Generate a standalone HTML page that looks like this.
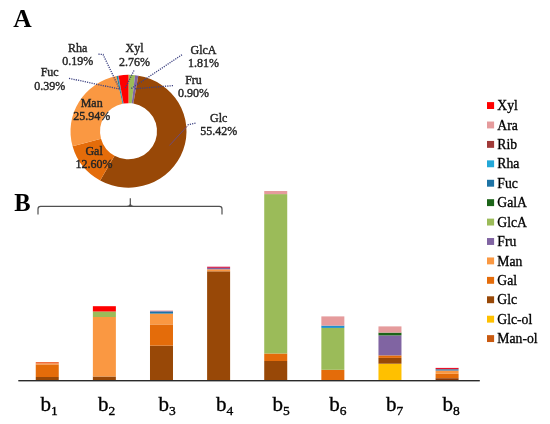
<!DOCTYPE html>
<html><head><meta charset="utf-8"><style>
html,body{margin:0;padding:0;background:#fff;}
body{width:550px;height:424px;position:relative;overflow:hidden;font-family:"Liberation Serif",serif;}
</style></head><body>
<svg width="550" height="424" viewBox="0 0 550 424" style="position:absolute;left:0;top:0;will-change:transform;filter:blur(0.4px)">
<path d="M128.50,74.85 A58.0,56.4 0 0 1 135.08,75.21 L131.73,103.33 A28.5,28.1 0 0 0 128.50,103.15 Z" fill="#9BBB59" />
<path d="M135.08,75.21 A58.0,56.4 0 0 1 138.33,75.67 L133.33,103.56 A28.5,28.1 0 0 0 131.73,103.33 Z" fill="#8064A2" />
<path d="M138.33,75.67 A58.0,56.4 0 1 1 100.16,180.46 L114.58,155.77 A28.5,28.1 0 1 0 133.33,103.56 Z" fill="#984807" />
<path d="M100.16,180.46 A58.0,56.4 0 0 1 72.58,146.22 L101.02,138.71 A28.5,28.1 0 0 0 114.58,155.77 Z" fill="#E46C0A" />
<path d="M72.58,146.22 A58.0,56.4 0 0 1 116.42,76.09 L122.56,103.77 A28.5,28.1 0 0 0 101.02,138.71 Z" fill="#FA9842" />
<path d="M116.42,76.09 A58.0,56.4 0 0 1 117.81,75.82 L123.25,103.63 A28.5,28.1 0 0 0 122.56,103.77 Z" fill="#1F8098" />
<path d="M117.81,75.82 A58.0,56.4 0 0 1 118.49,75.70 L123.58,103.57 A28.5,28.1 0 0 0 123.25,103.63 Z" fill="#2E8FAF" />
<path d="M118.49,75.70 A58.0,56.4 0 0 1 128.50,74.85 L128.50,103.15 A28.5,28.1 0 0 0 123.58,103.57 Z" fill="#FF0000" />
<path d="M98.4,54.2 L103,54.4 L120,90" fill="none" stroke="#3d4282" stroke-width="1.3" stroke-dasharray="1.2 1.1"/>
<path d="M69,78.3 L120.4,89.3" fill="none" stroke="#3d4282" stroke-width="1.3" stroke-dasharray="1.2 1.1"/>
<path d="M134,70.5 L124.8,89" fill="none" stroke="#3d4282" stroke-width="1.3" stroke-dasharray="1.2 1.1"/>
<path d="M182,54.7 L131.2,88.6" fill="none" stroke="#3d4282" stroke-width="1.3" stroke-dasharray="1.2 1.1"/>
<path d="M173,85.6 L134.5,88.8" fill="none" stroke="#3d4282" stroke-width="1.3" stroke-dasharray="1.2 1.1"/>
<path d="M195.5,123.2 L187.5,125" fill="none" stroke="#3d4282" stroke-width="1.3" stroke-dasharray="1.2 1.1"/>
<path d="M187.2,126.2 L169.5,145.4" stroke="#6e4a78" stroke-width="1" fill="none"/>
<text font-family="Liberation Serif" font-size="12" fill="#262626" stroke="#262626" stroke-width="0.4" text-anchor="middle" x="77.75" y="51.8">Rha</text><text font-family="Liberation Serif" font-size="12" fill="#262626" stroke="#262626" stroke-width="0.4" text-anchor="middle" x="77.75" y="65.0">0.19%</text>
<text font-family="Liberation Serif" font-size="12" fill="#262626" stroke="#262626" stroke-width="0.4" text-anchor="middle" x="134.5" y="52.3">Xyl</text><text font-family="Liberation Serif" font-size="12" fill="#262626" stroke="#262626" stroke-width="0.4" text-anchor="middle" x="134.5" y="65.9">2.76%</text>
<text font-family="Liberation Serif" font-size="12" fill="#262626" stroke="#262626" stroke-width="0.4" text-anchor="middle" x="203.5" y="53.5">GlcA</text><text font-family="Liberation Serif" font-size="12" fill="#262626" stroke="#262626" stroke-width="0.4" text-anchor="middle" x="203.5" y="66.6">1.81%</text>
<text font-family="Liberation Serif" font-size="12" fill="#262626" stroke="#262626" stroke-width="0.4" text-anchor="middle" x="49.7" y="76.4">Fuc</text><text font-family="Liberation Serif" font-size="12" fill="#262626" stroke="#262626" stroke-width="0.4" text-anchor="middle" x="49.7" y="89.5">0.39%</text>
<text font-family="Liberation Serif" font-size="12" fill="#262626" stroke="#262626" stroke-width="0.4" text-anchor="middle" x="193.5" y="83.6">Fru</text><text font-family="Liberation Serif" font-size="12" fill="#262626" stroke="#262626" stroke-width="0.4" text-anchor="middle" x="193.5" y="96.8">0.90%</text>
<text font-family="Liberation Serif" font-size="12" fill="#262626" stroke="#262626" stroke-width="0.4" text-anchor="middle" x="218.7" y="121.5">Glc</text><text font-family="Liberation Serif" font-size="12" fill="#262626" stroke="#262626" stroke-width="0.4" text-anchor="middle" x="218.7" y="135.1">55.42%</text>
<text font-family="Liberation Serif" font-size="12" fill="#262626" stroke="#262626" stroke-width="0.4" text-anchor="middle" x="91.7" y="106.8">Man</text><text font-family="Liberation Serif" font-size="12" fill="#262626" stroke="#262626" stroke-width="0.4" text-anchor="middle" x="91.7" y="120.0">25.94%</text>
<text font-family="Liberation Serif" font-size="12" fill="#262626" stroke="#262626" stroke-width="0.4" text-anchor="middle" x="94.1" y="155.0">Gal</text><text font-family="Liberation Serif" font-size="12" fill="#262626" stroke="#262626" stroke-width="0.4" text-anchor="middle" x="94.1" y="168.2">12.60%</text>
<text font-family="Liberation Serif" font-weight="bold" font-size="25.5" fill="#000" x="13.2" y="26.8">A</text>
<text font-family="Liberation Serif" font-weight="bold" font-size="24.5" fill="#000" x="14.2" y="211.1">B</text>
<path d="M38,214.6 L38,209 Q38,206.4 40.6,206.4 L219.4,206.4 Q222,206.4 222,209 L222,214.6 M130.3,206.4 L130.3,198.3 M127,206.4 Q130.3,206.4 130.3,204 Q130.3,206.4 133.6,206.4" fill="none" stroke="#505050" stroke-width="1.2"/>
<rect x="35.75" y="377" width="23.0" height="3.00" fill="#984807"/>
<rect x="35.75" y="364.6" width="23.0" height="12.40" fill="#E46C0A"/>
<rect x="35.75" y="363.4" width="23.0" height="1.20" fill="#F58A35"/>
<rect x="35.75" y="362.1" width="23.0" height="1.30" fill="#F0602A"/>
<rect x="92.87" y="376.5" width="23.0" height="3.50" fill="#984807"/>
<rect x="92.87" y="317" width="23.0" height="59.50" fill="#FA9842"/>
<rect x="92.87" y="311.5" width="23.0" height="5.50" fill="#9BBB59"/>
<rect x="92.87" y="306.2" width="23.0" height="5.30" fill="#FF0000"/>
<rect x="149.99" y="345.6" width="23.0" height="34.40" fill="#984807"/>
<rect x="149.99" y="324.4" width="23.0" height="21.20" fill="#E46C0A"/>
<rect x="149.99" y="313.6" width="23.0" height="10.80" fill="#FA9842"/>
<rect x="149.99" y="311.5" width="23.0" height="2.10" fill="#1D73A5"/>
<rect x="149.99" y="311" width="23.0" height="0.50" fill="#8064A2"/>
<rect x="149.99" y="310.5" width="23.0" height="0.50" fill="#E59B9C"/>
<rect x="207.11" y="271.3" width="23.0" height="108.70" fill="#984807"/>
<rect x="207.11" y="269.3" width="23.0" height="2.00" fill="#FA9842"/>
<rect x="207.11" y="267.9" width="23.0" height="1.40" fill="#8064A2"/>
<rect x="207.11" y="266.7" width="23.0" height="1.20" fill="#D2204C"/>
<rect x="264.23" y="361" width="23.0" height="19.00" fill="#984807"/>
<rect x="264.23" y="353.5" width="23.0" height="7.50" fill="#E46C0A"/>
<rect x="264.23" y="194.1" width="23.0" height="159.40" fill="#9BBB59"/>
<rect x="264.23" y="191" width="23.0" height="3.10" fill="#E59B9C"/>
<rect x="321.35" y="369.8" width="23.0" height="10.20" fill="#E46C0A"/>
<rect x="321.35" y="327.9" width="23.0" height="41.90" fill="#9BBB59"/>
<rect x="321.35" y="325.6" width="23.0" height="2.30" fill="#1E90CC"/>
<rect x="321.35" y="316.4" width="23.0" height="9.20" fill="#E59B9C"/>
<rect x="378.47" y="363.7" width="23.0" height="16.30" fill="#FFC000"/>
<rect x="378.47" y="357.9" width="23.0" height="5.80" fill="#984807"/>
<rect x="378.47" y="355.4" width="23.0" height="2.50" fill="#E46C0A"/>
<rect x="378.47" y="335.4" width="23.0" height="20.00" fill="#8064A2"/>
<rect x="378.47" y="332.6" width="23.0" height="2.80" fill="#1C6418"/>
<rect x="378.47" y="326.4" width="23.0" height="6.20" fill="#E59B9C"/>
<rect x="435.59" y="378.2" width="23.0" height="1.80" fill="#86380A"/>
<rect x="435.59" y="373.8" width="23.0" height="4.40" fill="#E46C0A"/>
<rect x="435.59" y="370.8" width="23.0" height="3.00" fill="#FA9842"/>
<rect x="435.59" y="369" width="23.0" height="1.80" fill="#6F86A0"/>
<rect x="435.59" y="367.9" width="23.0" height="1.10" fill="#E8102A"/>
<rect x="18.3" y="380" width="461.5" height="1.4" fill="#2a2a2a"/>
<text font-family="Liberation Serif" font-size="21" fill="#000" stroke="#000" stroke-width="0.35" x="40.400000000000006" y="410.9">b<tspan font-size="13.5" dy="4">1</tspan></text>
<text font-family="Liberation Serif" font-size="21" fill="#000" stroke="#000" stroke-width="0.35" x="97.9" y="410.9">b<tspan font-size="13.5" dy="4">2</tspan></text>
<text font-family="Liberation Serif" font-size="21" fill="#000" stroke="#000" stroke-width="0.35" x="158.5" y="410.9">b<tspan font-size="13.5" dy="4">3</tspan></text>
<text font-family="Liberation Serif" font-size="21" fill="#000" stroke="#000" stroke-width="0.35" x="216.0" y="410.9">b<tspan font-size="13.5" dy="4">4</tspan></text>
<text font-family="Liberation Serif" font-size="21" fill="#000" stroke="#000" stroke-width="0.35" x="272.5" y="410.9">b<tspan font-size="13.5" dy="4">5</tspan></text>
<text font-family="Liberation Serif" font-size="21" fill="#000" stroke="#000" stroke-width="0.35" x="329.3" y="410.9">b<tspan font-size="13.5" dy="4">6</tspan></text>
<text font-family="Liberation Serif" font-size="21" fill="#000" stroke="#000" stroke-width="0.35" x="386.09999999999997" y="410.9">b<tspan font-size="13.5" dy="4">7</tspan></text>
<text font-family="Liberation Serif" font-size="21" fill="#000" stroke="#000" stroke-width="0.35" x="442.5" y="410.9">b<tspan font-size="13.5" dy="4">8</tspan></text>
<rect x="487" y="102.10" width="7.1" height="6.9" fill="#FF0000"/>
<text font-family="Liberation Serif" font-size="13.7" fill="#000" stroke="#000" stroke-width="0.3" x="497.3" y="110.20">Xyl</text>
<rect x="487" y="121.52" width="7.1" height="6.9" fill="#E59B9C"/>
<text font-family="Liberation Serif" font-size="13.7" fill="#000" stroke="#000" stroke-width="0.3" x="497.3" y="129.62">Ara</text>
<rect x="487" y="140.94" width="7.1" height="6.9" fill="#A03A38"/>
<text font-family="Liberation Serif" font-size="13.7" fill="#000" stroke="#000" stroke-width="0.3" x="497.3" y="149.04">Rib</text>
<rect x="487" y="160.36" width="7.1" height="6.9" fill="#23A8D8"/>
<text font-family="Liberation Serif" font-size="13.7" fill="#000" stroke="#000" stroke-width="0.3" x="497.3" y="168.46">Rha</text>
<rect x="487" y="179.78" width="7.1" height="6.9" fill="#1D73A5"/>
<text font-family="Liberation Serif" font-size="13.7" fill="#000" stroke="#000" stroke-width="0.3" x="497.3" y="187.88">Fuc</text>
<rect x="487" y="199.20" width="7.1" height="6.9" fill="#1C6418"/>
<text font-family="Liberation Serif" font-size="13.7" fill="#000" stroke="#000" stroke-width="0.3" x="497.3" y="207.30">GalA</text>
<rect x="487" y="218.62" width="7.1" height="6.9" fill="#9BBB59"/>
<text font-family="Liberation Serif" font-size="13.7" fill="#000" stroke="#000" stroke-width="0.3" x="497.3" y="226.72">GlcA</text>
<rect x="487" y="238.04" width="7.1" height="6.9" fill="#8064A2"/>
<text font-family="Liberation Serif" font-size="13.7" fill="#000" stroke="#000" stroke-width="0.3" x="497.3" y="246.14">Fru</text>
<rect x="487" y="257.46" width="7.1" height="6.9" fill="#FA9842"/>
<text font-family="Liberation Serif" font-size="13.7" fill="#000" stroke="#000" stroke-width="0.3" x="497.3" y="265.56">Man</text>
<rect x="487" y="276.88" width="7.1" height="6.9" fill="#E46C0A"/>
<text font-family="Liberation Serif" font-size="13.7" fill="#000" stroke="#000" stroke-width="0.3" x="497.3" y="284.98">Gal</text>
<rect x="487" y="296.30" width="7.1" height="6.9" fill="#984807"/>
<text font-family="Liberation Serif" font-size="13.7" fill="#000" stroke="#000" stroke-width="0.3" x="497.3" y="304.40">Glc</text>
<rect x="487" y="315.72" width="7.1" height="6.9" fill="#FFC000"/>
<text font-family="Liberation Serif" font-size="13.7" fill="#000" stroke="#000" stroke-width="0.3" x="497.3" y="323.82">Glc-ol</text>
<rect x="487" y="335.14" width="7.1" height="6.9" fill="#C95A10"/>
<text font-family="Liberation Serif" font-size="13.7" fill="#000" stroke="#000" stroke-width="0.3" x="497.3" y="343.24">Man-ol</text>
</svg>
</body></html>
